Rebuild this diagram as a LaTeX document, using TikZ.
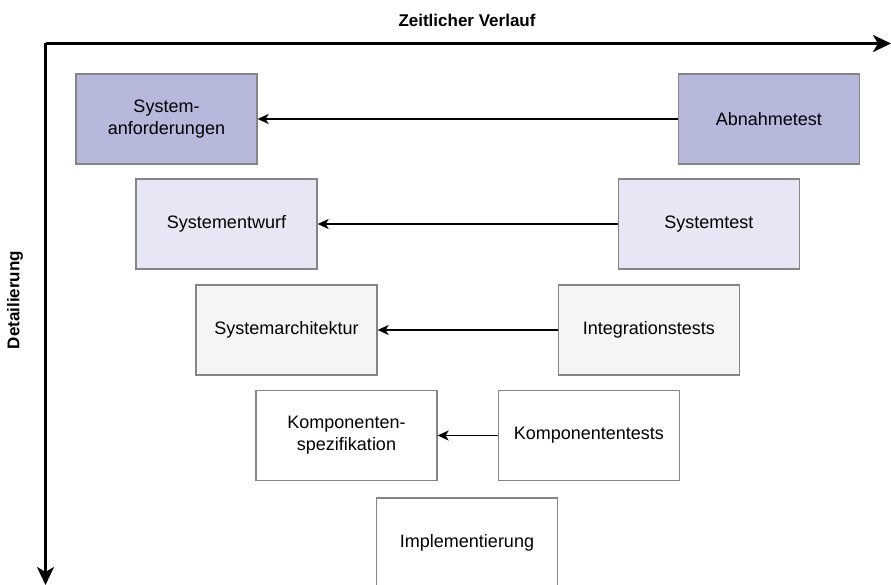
\documentclass[tikz,border=0pt]{standalone}
\usepackage{fontspec}
\setmainfont{Liberation Sans}
\usetikzlibrary{arrows.meta,positioning}
\definecolor{vmodeldark}{HTML}{B6B8DC}
\definecolor{vmodellight}{HTML}{E6E6F4}
\definecolor{vmodelgray}{HTML}{F5F5F5}
\definecolor{vmodelline}{HTML}{858585}

\begin{document}
\begin{tikzpicture}[x=1pt, y=-1pt,
  box/.style={draw=vmodelline, line width=1.3pt, minimum width=181pt, minimum height=90pt, inner sep=0pt, align=center, font=\fontsize{18}{22}\selectfont},
  arrow/.style={-{Stealth[length=11pt, width=10pt, inset=3pt]}, line width=1.3pt},
  axis/.style={-{Stealth[length=18pt, width=17pt, inset=5pt]}, line width=3pt},
  axislabel/.style={font=\bfseries\fontsize{17}{20}\selectfont}
]
\clip (0,0) rectangle (891,585);
% left branch
\node[box, fill=vmodeldark] (sysreq) at (166.5,119) {System-\\anforderungen};
\node[box, fill=vmodellight] (sysdesign) at (226.5,224) {Systementwurf};
\node[box, fill=vmodelgray] (sysarch) at (286.5,330) {Systemarchitektur};
\node[box, fill=white] (compspec) at (346.5,435.5) {Komponenten-\\spezifikation};
\node[box, fill=white] (impl) at (467,543) {Implementierung};
% right branch
\node[box, fill=vmodeldark, right=420pt of sysreq] (acctest) {Abnahmetest};
\node[box, fill=vmodellight, right=300pt of sysdesign] (systest) {Systemtest};
\node[box, fill=vmodelgray, right=180pt of sysarch] (inttest) {Integrationstests};
\node[box, fill=white, right=60pt of compspec] (comptest) {Komponententests};
\draw[arrow] (acctest) -- (sysreq);
\draw[arrow] (systest) -- (sysdesign);
\draw[arrow] (inttest) -- (sysarch);
\draw[arrow] (comptest) -- (compspec);
% axes
\coordinate (origin) at (45.5,43.5);
\coordinate (timeend) at (891,43.5);
\coordinate (detailend) at (45.5,585);
\draw[axis] (origin) -- (timeend);
\draw[axis] (origin) -- (detailend);
\node[axislabel] (time) at (467,20) {Zeitlicher Verlauf};
\node[axislabel, rotate=90] (detail) at (15,300) {Detailierung};
\end{tikzpicture}
\end{document}
